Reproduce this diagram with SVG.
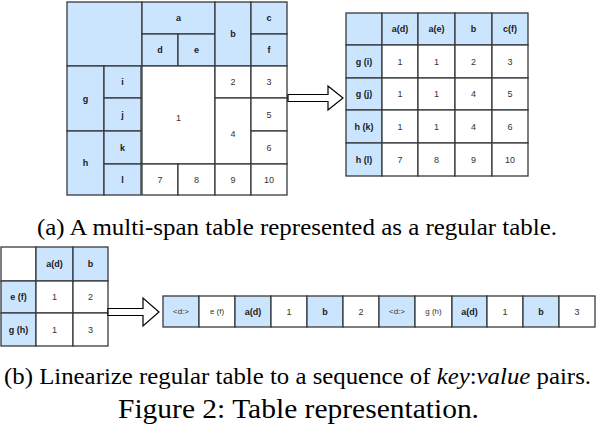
<svg xmlns="http://www.w3.org/2000/svg" width="596" height="426" viewBox="0 0 596 426">
<style>
.b{fill:#cce5ff;stroke:#36393d;stroke-width:1.3}
.w{fill:#ffffff;stroke:#36393d;stroke-width:1.3}
.h{font-family:"Liberation Sans",Arial,sans-serif;font-size:9px;font-weight:bold;fill:#1a1a1a;text-anchor:middle;dominant-baseline:central}
.v{font-family:"Liberation Sans",Arial,sans-serif;font-size:9px;fill:#333;text-anchor:middle;dominant-baseline:central}
.s{font-family:"Liberation Sans",Arial,sans-serif;font-size:8px;fill:#333;text-anchor:middle;dominant-baseline:central}
.cap{font-family:"Liberation Serif","Times New Roman",Times,"DejaVu Serif","Noto Serif",serif;fill:#000}
.arr{fill:#fff;stroke:#000;stroke-width:1.2}
</style>
<g id="multispan-table">
<rect class="b" x="67" y="2" width="75" height="64"/>
<rect class="b" x="142" y="2" width="73" height="32"/><text class="h" x="178.5" y="18">a</text>
<rect class="b" x="142" y="34" width="36" height="32"/><text class="h" x="160" y="50">d</text>
<rect class="b" x="178" y="34" width="37" height="32"/><text class="h" x="196.5" y="50">e</text>
<rect class="b" x="215" y="2" width="36" height="64"/><text class="h" x="233" y="34">b</text>
<rect class="b" x="251" y="2" width="36" height="32"/><text class="h" x="269" y="18">c</text>
<rect class="b" x="251" y="34" width="36" height="32"/><text class="h" x="269" y="50">f</text>
<rect class="b" x="67" y="66" width="37" height="65"/><text class="h" x="85.5" y="98.5">g</text>
<rect class="b" x="67" y="131" width="37" height="64"/><text class="h" x="85.5" y="163">h</text>
<rect class="b" x="104" y="66" width="37" height="32"/><text class="h" x="122.5" y="82">i</text>
<rect class="b" x="104" y="98" width="37" height="33"/><text class="h" x="122.5" y="114.5">j</text>
<rect class="b" x="104" y="131" width="37" height="33"/><text class="h" x="122.5" y="147.5">k</text>
<rect class="b" x="104" y="164" width="37" height="31"/><text class="h" x="122.5" y="179.5">l</text>
<rect class="w" x="142" y="66" width="73" height="98"/><text class="v" x="178.5" y="118">1</text>
<rect class="w" x="215" y="66" width="36" height="32"/><text class="v" x="233" y="82">2</text>
<rect class="w" x="215" y="98" width="36" height="66"/><text class="v" x="233" y="134">4</text>
<rect class="w" x="251" y="66" width="36" height="32"/><text class="v" x="269" y="82">3</text>
<rect class="w" x="251" y="98" width="36" height="33"/><text class="v" x="269" y="114.5">5</text>
<rect class="w" x="251" y="131" width="36" height="33"/><text class="v" x="269" y="147.5">6</text>
<rect class="w" x="142" y="164" width="36" height="31"/><text class="v" x="160" y="179.5">7</text>
<rect class="w" x="178" y="164" width="37" height="31"/><text class="v" x="196.5" y="179.5">8</text>
<rect class="w" x="215" y="164" width="36" height="31"/><text class="v" x="233" y="179.5">9</text>
<rect class="w" x="251" y="164" width="36" height="31"/><text class="v" x="269" y="179.5">10</text>
</g>
<g id="regular-table">
<rect class="b" x="346" y="13" width="36" height="32"/>
<rect class="b" x="382" y="13" width="36" height="32"/><text class="h" x="400" y="29">a(d)</text>
<rect class="b" x="418" y="13" width="37" height="32"/><text class="h" x="436.5" y="29">a(e)</text>
<rect class="b" x="455" y="13" width="37" height="32"/><text class="h" x="473.5" y="29">b</text>
<rect class="b" x="492" y="13" width="36" height="32"/><text class="h" x="510" y="29">c(f)</text>
<rect class="b" x="346" y="45" width="36" height="33"/><text class="h" x="364" y="61.5">g (i)</text>
<rect class="b" x="346" y="78" width="36" height="32"/><text class="h" x="364" y="94">g (j)</text>
<rect class="b" x="346" y="110" width="36" height="33"/><text class="h" x="364" y="126.5">h (k)</text>
<rect class="b" x="346" y="143" width="36" height="33"/><text class="h" x="364" y="159.5">h (l)</text>
<rect class="w" x="382" y="45" width="36" height="33"/><text class="v" x="400" y="61.5">1</text>
<rect class="w" x="418" y="45" width="37" height="33"/><text class="v" x="436.5" y="61.5">1</text>
<rect class="w" x="455" y="45" width="37" height="33"/><text class="v" x="473.5" y="61.5">2</text>
<rect class="w" x="492" y="45" width="36" height="33"/><text class="v" x="510" y="61.5">3</text>
<rect class="w" x="382" y="78" width="36" height="32"/><text class="v" x="400" y="94">1</text>
<rect class="w" x="418" y="78" width="37" height="32"/><text class="v" x="436.5" y="94">1</text>
<rect class="w" x="455" y="78" width="37" height="32"/><text class="v" x="473.5" y="94">4</text>
<rect class="w" x="492" y="78" width="36" height="32"/><text class="v" x="510" y="94">5</text>
<rect class="w" x="382" y="110" width="36" height="33"/><text class="v" x="400" y="126.5">1</text>
<rect class="w" x="418" y="110" width="37" height="33"/><text class="v" x="436.5" y="126.5">1</text>
<rect class="w" x="455" y="110" width="37" height="33"/><text class="v" x="473.5" y="126.5">4</text>
<rect class="w" x="492" y="110" width="36" height="33"/><text class="v" x="510" y="126.5">6</text>
<rect class="w" x="382" y="143" width="36" height="33"/><text class="v" x="400" y="159.5">7</text>
<rect class="w" x="418" y="143" width="37" height="33"/><text class="v" x="436.5" y="159.5">8</text>
<rect class="w" x="455" y="143" width="37" height="33"/><text class="v" x="473.5" y="159.5">9</text>
<rect class="w" x="492" y="143" width="36" height="33"/><text class="v" x="510" y="159.5">10</text>
</g>
<g id="small-table">
<rect class="w" x="1" y="247" width="35" height="34"/>
<rect class="b" x="36" y="247" width="37" height="34"/><text class="h" x="54.5" y="264">a(d)</text>
<rect class="b" x="73" y="247" width="35" height="34"/><text class="h" x="90.5" y="264">b</text>
<rect class="b" x="1" y="281" width="35" height="32"/><text class="h" x="18.5" y="297">e (f)</text>
<rect class="w" x="36" y="281" width="37" height="32"/><text class="v" x="54.5" y="297">1</text>
<rect class="w" x="73" y="281" width="35" height="32"/><text class="v" x="90.5" y="297">2</text>
<rect class="b" x="1" y="313" width="35" height="33"/><text class="h" x="18.5" y="329.5">g (h)</text>
<rect class="w" x="36" y="313" width="37" height="33"/><text class="v" x="54.5" y="329.5">1</text>
<rect class="w" x="73" y="313" width="35" height="33"/><text class="v" x="90.5" y="329.5">3</text>
</g>
<g id="sequence">
<rect class="b" x="163" y="296" width="36" height="31"/><text class="s" x="181" y="311.5">&lt;d:&gt;</text>
<rect class="w" x="199" y="296" width="36" height="31"/><text class="s" x="217" y="311.5">e (f)</text>
<rect class="b" x="235" y="296" width="36" height="31"/><text class="h" x="253" y="311.5">a(d)</text>
<rect class="w" x="271" y="296" width="36" height="31"/><text class="v" x="289" y="311.5">1</text>
<rect class="b" x="307" y="296" width="36" height="31"/><text class="h" x="325" y="311.5">b</text>
<rect class="w" x="343" y="296" width="36" height="31"/><text class="v" x="361" y="311.5">2</text>
<rect class="b" x="379" y="296" width="36" height="31"/><text class="s" x="397" y="311.5">&lt;d:&gt;</text>
<rect class="w" x="415" y="296" width="37" height="31"/><text class="s" x="433.5" y="311.5">g (h)</text>
<rect class="b" x="452" y="296" width="35" height="31"/><text class="h" x="469.5" y="311.5">a(d)</text>
<rect class="w" x="487" y="296" width="36" height="31"/><text class="v" x="505" y="311.5">1</text>
<rect class="b" x="523" y="296" width="36" height="31"/><text class="h" x="541" y="311.5">b</text>
<rect class="w" x="559" y="296" width="36" height="31"/><text class="v" x="577" y="311.5">3</text>
</g>
<g id="connectors">
<polygon class="arr" points="288,94.5 328,94.5 328,86 343,98 328,110 328,101.5 288,101.5"/>
<polygon class="arr" points="108,308.5 143,308.5 143,298 159,312 143,326 143,315.5 108,315.5"/>
</g>
<g id="captions">
<text class="cap" x="37" y="235" font-size="23.5" textLength="520" lengthAdjust="spacingAndGlyphs">(a) A multi-span table represented as a regular table.</text>
<text class="cap" x="4" y="384" font-size="23.5" textLength="587" lengthAdjust="spacingAndGlyphs">(b) Linearize regular table to a sequence of <tspan font-style="italic">key</tspan>:<tspan font-style="italic">value</tspan> pairs.</text>
<text class="cap" x="118" y="418" font-size="27" textLength="361" lengthAdjust="spacingAndGlyphs">Figure 2: Table representation.</text>
</g>
</svg>
